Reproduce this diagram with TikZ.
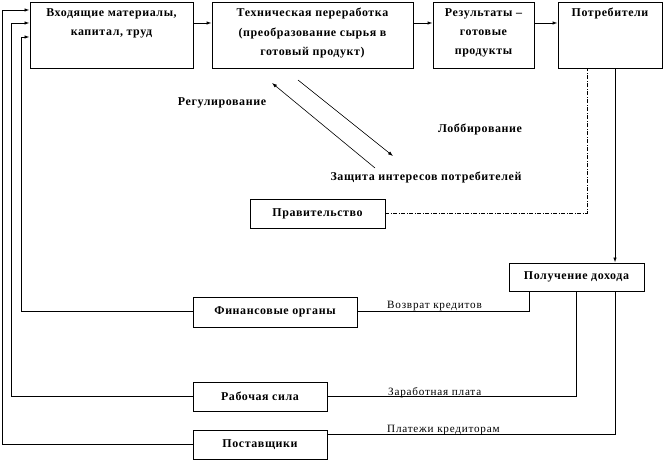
\documentclass[tikz,border=0pt]{standalone}
\usepackage{fontspec}
\setmainfont{Liberation Serif}
\newfontfamily\boxfont{Liberation Serif}[LetterSpace=5]
\newfontfamily\labfont{Liberation Serif}[LetterSpace=7]
\usetikzlibrary{arrows.meta,calc}
\begin{document}
\begin{tikzpicture}[x=1bp,y=-1bp,
  box/.style={draw, line width=0.9bp, inner sep=0pt, font=\boxfont\bfseries\fontsize{12}{14}\selectfont},
  ttl/.style={anchor=north, align=center, inner sep=0pt, font=\boxfont\bfseries\fontsize{12}{19.5}\selectfont},
  lbl/.style={anchor=base west, inner sep=0pt, font=\labfont\fontsize{11.2}{13}\selectfont},
  note/.style={inner sep=0pt, font=\boxfont\bfseries\fontsize{12}{14}\selectfont},
  conn/.style={line width=0.9bp},
  arr/.style={conn, -{Latex[length=5bp,width=3.5bp]}},
  govline/.style={line width=0.8bp, dash pattern=on 4bp off 1.5bp on 1bp off 1.5bp}
]
\useasboundingbox (0,0) rectangle (664,460);

% top row boxes
\node[box, minimum width=163bp, minimum height=66bp] (box1) at (111.5,35) {};
\node[box, minimum width=201bp, minimum height=66bp] (box2) at (312.5,35) {};
\node[box, minimum width=101bp, minimum height=66bp] (box3) at (483.5,35) {};
\node[box, minimum width=104bp, minimum height=66bp] (box4) at (610,35) {};

\node[ttl] (t1) at ($(box1.north)+(0,6.5)$) {Входящие материалы,\\капитал, труд};
\node[ttl] (t2) at ($(box2.north)+(0,6.5)$) {Техническая переработка\\(преобразование сырья в\\готовый продукт)};
\node[ttl] (t3) at ($(box3.north)+(0,6.5)$) {Результаты –\\готовые\\продукты};
\node[ttl] (t4) at ($(box4.north)+(0,6.5)$) {Потребители};

% other boxes
\node[box, minimum width=135bp, minimum height=29bp] (gov) at (317.5,213.5) {Правительство};
\node[box, minimum width=135bp, minimum height=28bp] (income) at (576.5,277) {Получение дохода};
\node[box, minimum width=164bp, minimum height=30bp] (fin) at (275,312) {Финансовые органы};
\node[box, minimum width=134bp, minimum height=29bp] (rab) at (260,396.5) {Рабочая сила};
\node[box, minimum width=134bp, minimum height=29bp] (post) at (260,444.5) {Поставщики};

% floating labels
\node[note] (reg) at (222,103) {Регулирование};
\node[note] (lob) at (480,129) {Лоббирование};
\node[note] (zash) at (426,177) {Защита интересов потребителей};

% top row arrows
\draw[arr] ($(box1.east)+(0,-12)$) -- ($(box2.west)+(0,-12)$);
\draw[arr] ($(box2.east)+(0,-12)$) -- ($(box3.west)+(0,-12)$);
\draw[arr] ($(box3.east)+(0,-12)$) -- ($(box4.west)+(0,-12)$);

% diagonal arrows
\coordinate (a1) at (375,168);
\coordinate (a2) at (272,83);
\coordinate (b1) at (298,80);
\coordinate (b2) at (393,156);
\draw[arr, line width=0.6bp] (a1) -- (a2);
\draw[arr, line width=0.6bp] (b1) -- (b2);

% consumers -> income
\coordinate (cons) at ($(box4.south)+(5,0)$);
\draw[arr] (cons) -- (cons |- income.north);

% government dashed line
\coordinate (govend) at ($(box4.south)+(-23,0)$);
\draw[govline] (gov.east) -| (govend);

% income -> financial, labour, suppliers
\coordinate (i1) at ($(income.south)+(-47.5,0)$);
\coordinate (i3) at ($(income.south)+(38.5,0)$);
\coordinate (f1) at ($(fin.east)+(0,-1)$);
\coordinate (p1) at ($(post.east)+(0,-10.5)$);
\draw[conn] (i1) |- (f1);
\draw[conn] (income.south) |- (rab.east);
\draw[conn] (i3) |- (p1);

\node[lbl] (l1) at (387,309) {Возврат кредитов};
\node[lbl] (l2) at (388,395) {Заработная плата};
\node[lbl] (l3) at (387,432) {Платежи кредиторам};

% feedback lines to inputs
\coordinate (c1) at (21,37);
\coordinate (c2) at (11.5,23);
\coordinate (c3) at (2.5,10);
\coordinate (f2) at ($(fin.west)+(0,-1)$);
\draw[arr] (f2) -| (c1) -- (c1 -| box1.west);
\draw[arr] (rab.west) -| (c2) -- (c2 -| box1.west);
\draw[arr] (post.west) -| (c3) -- (c3 -| box1.west);
\end{tikzpicture}
\end{document}
